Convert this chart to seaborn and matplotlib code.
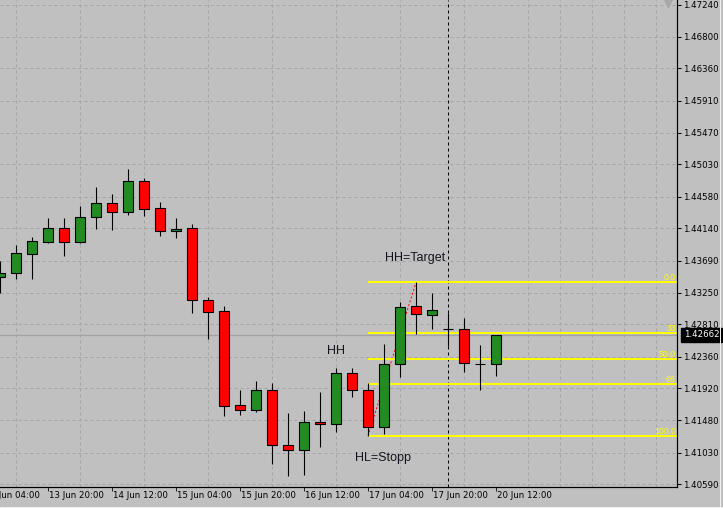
import numpy as np
import pandas as pd
import matplotlib
matplotlib.use('Agg')
import matplotlib.pyplot as plt
import matplotlib.transforms as mtransforms
from matplotlib.lines import Line2D
import seaborn as sns

# 4h bars, bar 0 is the one cut by the left edge of the chart
opens = [1.43470, 1.43518, 1.43790, 1.43956, 1.44142, 1.43948, 1.44295, 1.44489,
         1.44372, 1.44794, 1.44419, 1.44100, 1.44142, 1.43143, 1.42990, 1.41686,
         1.41617, 1.41894, 1.41131, 1.41062, 1.41450, 1.41423, 1.42130, 1.41894,
         1.41381, 1.42255, 1.43060, 1.42935, 1.42741, 1.42741, 1.42266, 1.42255]
highs = [1.43688, 1.43910, 1.44017, 1.44281, 1.44281, 1.44451, 1.44711, 1.44618,
         1.44965, 1.44836, 1.44503, 1.44281, 1.44197, 1.43185, 1.43064, 1.41899,
         1.42023, 1.41991, 1.41579, 1.41607, 1.41871, 1.42204, 1.42204, 1.41991,
         1.42537, 1.43119, 1.43390, 1.43240, 1.42963, 1.42897, 1.42519, 1.42662]
lows = [1.43240, 1.43443, 1.43443, 1.43942, 1.43762, 1.43934, 1.44136, 1.44123,
        1.44331, 1.44317, 1.44039, 1.44012, 1.42971, 1.42610, 1.41542, 1.41556,
        1.41597, 1.40876, 1.40710, 1.40723, 1.41112, 1.41320, 1.41806, 1.41262,
        1.41288, 1.42083, 1.42680, 1.42749, 1.42513, 1.42148, 1.41894, 1.42097]
closes = [1.43518, 1.43795, 1.43962, 1.44142, 1.43948, 1.44295, 1.44489, 1.44372,
          1.44794, 1.44414, 1.44100, 1.44136, 1.43143, 1.42985, 1.41672, 1.41617,
          1.41894, 1.41131, 1.41062, 1.41450, 1.41423, 1.42130, 1.41894, 1.41381,
          1.42255, 1.43046, 1.42949, 1.43004, 1.42741, 1.42269, 1.42260, 1.42662]

time_labels = ['13 Jun 04:00', '13 Jun 20:00', '14 Jun 12:00', '15 Jun 04:00',
               '15 Jun 20:00', '16 Jun 12:00', '17 Jun 04:00', '17 Jun 20:00',
               '20 Jun 12:00']
time_label_bars = [-1, 3, 7, 11, 15, 19, 23, 27, 31]

price_ticks = [1.40590, 1.41030, 1.41480, 1.41920, 1.42360, 1.42810, 1.43250, 1.43690,
               1.44140, 1.44580, 1.45030, 1.45470, 1.45910, 1.46360, 1.46800, 1.47240]

fib_names = ['0.0', '33', '50.0', '66', '100.0']
fib_prices = [1.43390, 1.42686, 1.42325, 1.41986, 1.41262]
fib_start_bar = 23

last_price = 1.42662
separator_bar = 28
zigzag_bars = [23, 26]
zigzag_prices = [1.41262, 1.43390]

note_texts = ['HH', 'HH=Target', 'HL=Stopp']
note_bars = [20.45, 24.05, 22.2]
note_prices = [1.42440, 1.43730, 1.40955]

BG = '#c0c0c0'
PX = 0.72  # one pixel in points

sns.set_theme(style='ticks', rc={'axes.facecolor': BG, 'figure.facecolor': BG,
                                 'axes.edgecolor': 'black'})
plt.rcParams['font.family'] = ['DejaVu Sans']

fig = plt.figure(figsize=(7.23, 5.08), dpi=100)
ax = fig.add_axes([0, 21 / 508, 677 / 723, 487 / 508])
x_right = 677 / 16
ax.set_xlim(0, x_right)
ax.set_ylim(1.40553, 1.47309)

bars = pd.DataFrame({'bar': np.arange(len(opens)), 'open': opens, 'high': highs,
                     'low': lows, 'close': closes})
bars['up'] = bars['close'] >= bars['open']
bars['body_lo'] = bars[['open', 'close']].min(axis=1)
bars['body_h'] = (bars['close'] - bars['open']).abs()

# grid
ax.set_axisbelow(True)
ax.set_xticks(np.arange(1, 43, 2), minor=True)
ax.set_xticks([b for b in time_label_bars if b >= 0])
ax.set_xticklabels([])
ax.set_yticks(price_ticks)
ax.set_yticklabels(['%.5f' % p for p in price_ticks])
ax.grid(False)
ax.grid(True, which='minor', axis='x', color='#a4a4a4', lw=PX, ls=(0, (3, 3)))
ax.grid(True, which='major', axis='y', color='#a4a4a4', lw=PX, ls=(0, (3, 3)))

# bid line, separator, zigzag and fibo levels (all behind the candles)
ax.axhline(last_price, color='#a2a2a2', lw=1.2 * PX, zorder=1)
ax.axvline(separator_bar, color='black', lw=PX, ls=(0, (3, 3)), zorder=1.5)
zz = pd.DataFrame({'bar': zigzag_bars, 'price': zigzag_prices})
sns.lineplot(data=zz, x='bar', y='price', ax=ax, color='red', lw=PX,
             linestyle=(0, (2, 2)), zorder=2)
ax.hlines(fib_prices, fib_start_bar, x_right, color='#ffff00', lw=2 * PX, zorder=2.5)
lbl_tr = mtransforms.offset_copy(ax.transData, fig=fig, x=-1, y=2, units='dots')
for name, p in zip(fib_names, fib_prices):
    ax.text(x_right, p, name, transform=lbl_tr, ha='right', va='baseline',
            color='#ffff00', fontsize=6.3, family=['Liberation Sans'])

# candles
ax.vlines(bars['bar'], bars['low'], bars['high'], color='black', lw=1.1 * PX, zorder=3)
ax.bar(bars['bar'], bars['body_h'], bottom=bars['body_lo'], width=0.6,
       color=np.where(bars['up'], '#228b22', '#ff0000'), edgecolor='black',
       linewidth=1.1 * PX, zorder=4)

# text objects
for t, b, p in zip(note_texts, note_bars, note_prices):
    ax.text(b, p, t, ha='left', va='center', fontsize=9, color='#141420',
            family=['Liberation Sans'], zorder=5)

# axes look
ax.spines['left'].set_visible(False)
ax.spines['top'].set_visible(False)
ax.spines['right'].set_linewidth(1.2 * PX)
ax.spines['bottom'].set_linewidth(1.2 * PX)
ax.yaxis.tick_right()
ax.tick_params(axis='y', which='major', length=3, width=PX, pad=1.6, labelsize=6.2,
               colors='black')
ax.tick_params(axis='x', which='major', length=2.6, width=PX, pad=1)
ax.tick_params(axis='x', which='minor', length=0)

# time labels start at their tick, like the terminal draws them
xlab_tr = mtransforms.offset_copy(
    mtransforms.blended_transform_factory(ax.transData, ax.transAxes),
    fig=fig, x=1, y=-4, units='dots')
for t, b in zip(time_labels, time_label_bars):
    ax.text(b, 0, t, transform=xlab_tr, ha='left', va='top', fontsize=6.2,
            color='black', clip_on=False)

# current price tag
tag_tr = mtransforms.offset_copy(
    mtransforms.blended_transform_factory(ax.transAxes, ax.transData),
    fig=fig, x=7, y=0, units='dots')
ax.text(1, last_price, '%.5f' % last_price, transform=tag_tr, ha='left', va='center',
        fontsize=6.2, color='white', clip_on=False,
        bbox=dict(boxstyle='square,pad=0.3', fc='black', ec='black'))

# chart shift marker and window edge
ax.plot([668 / 677], [0.994], marker='v', ms=6, color='#a8a8a8',
        transform=ax.transAxes, clip_on=False)
fig.add_artist(Line2D([719.5 / 723] * 2, [0, 1], color='#f0f0f0', lw=PX))
fig.add_artist(Line2D([0, 1], [1.5 / 508] * 2, color='#f0f0f0', lw=PX))

ax.set_xlabel('')
ax.set_ylabel('')
fig.savefig('out.png', dpi=100, facecolor=BG)
